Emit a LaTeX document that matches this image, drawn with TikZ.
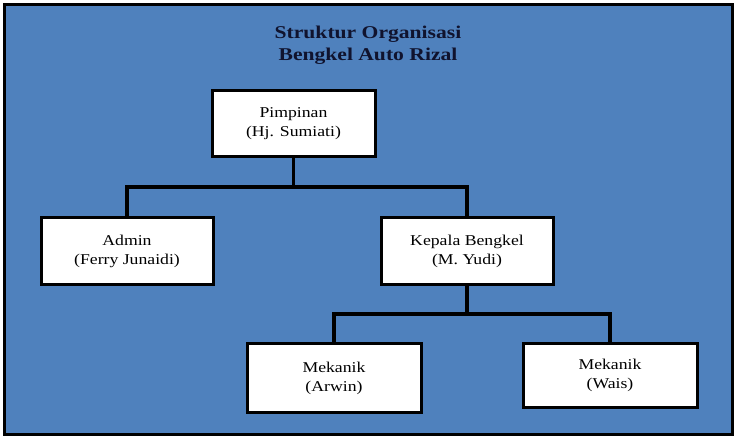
\documentclass[tikz,border=0pt]{standalone}
\usepackage{fontspec}
\setmainfont{Liberation Serif}
\newfontfamily\isifont[FakeStretch=1.18]{Liberation Serif}
\newfontfamily\judulfont[FakeStretch=1.2]{Liberation Serif}
\usetikzlibrary{positioning}
\definecolor{latar}{HTML}{4F81BD}
\definecolor{judulC}{HTML}{10132E}
\tikzset{
  kotak/.style={rectangle, draw=black, line width=3pt, fill=white,
                align=center, font=\isifont\fontsize{15}{19}\selectfont,
                minimum width=#1, inner sep=0pt},
  garis/.style={line width=3.2pt, draw=black},
}

\begin{document}
\begin{tikzpicture}[x=1pt,y=-1pt]
    \useasboundingbox (0,0) rectangle (738,438);
    \draw[line width=3pt, fill=latar] (4,5) rectangle (732,434);
    \node[font=\judulfont\bfseries\fontsize{18}{22}\selectfont, text=judulC, align=center] (judul) at (368,45)
      {Struktur Organisasi\\Bengkel Auto Rizal};
    \node[kotak=163pt, minimum height=66pt] (pimpinan) at (293.5,124)
      {Pimpinan\\(Hj. Sumiati)};
    \node[kotak=172pt, minimum height=67pt] (admin) at (127,251)
      {Admin\\(Ferry Junaidi)};
    \node[kotak=172pt, minimum height=67pt] (kepala) at (467,251)
      {Kepala Bengkel\\(M. Yudi)};
    \node[kotak=174pt, minimum height=69pt] (arwin) at (334,378)
      {Mekanik\\(Arwin)};
    \node[kotak=174pt, minimum height=64pt] (wais) at (610,375)
      {Mekanik\\(Wais)};
    \coordinate (cabang1) at (293.5,187);
    \coordinate (cabang2) at (467,314);
    \draw[garis] (pimpinan) -- (cabang1);
    \draw[garis] (admin.north) |- (cabang1) -| (kepala.north);
    \draw[garis] (kepala) -- (cabang2);
    \draw[garis] (arwin.north) |- (cabang2) -| (wais.north);
  \end{tikzpicture}
\end{document}
